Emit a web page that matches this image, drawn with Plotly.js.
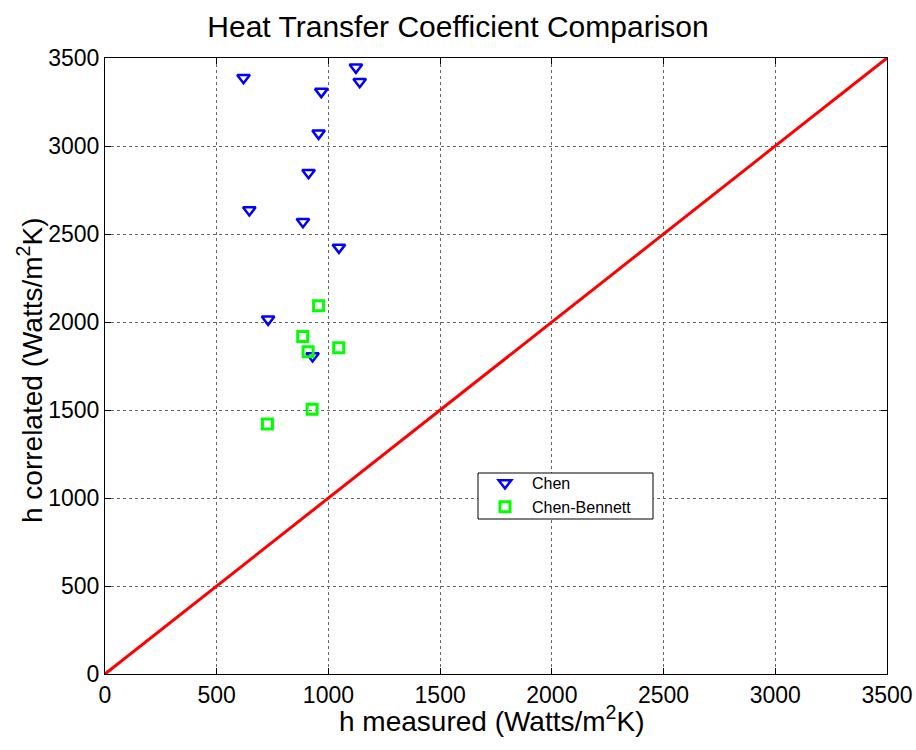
<!DOCTYPE html>
<html>
<head>
<meta charset="utf-8">
<script src="https://cdn.plot.ly/plotly-3.0.1.min.js"></script>
<style>html,body{margin:0;padding:0;background:#fff;}#chart{width:916px;height:750px;}</style>
</head>
<body>
<div id="chart"></div>
<script>
var chenMeasured = [1123, 1140, 620, 968, 956, 911, 646, 886, 1047, 730, 929];
var chenCorrelated = [3447, 3365, 3388, 3309, 3072, 2848, 2636, 2570, 2424, 2015, 1807];
var bennettMeasured = [956, 885, 909, 1046, 927, 727];
var bennettCorrelated = [2093, 1917, 1831, 1854, 1504, 1420];
var lineX = [0, 3500];
var lineY = [0, 3500];
var tickVals = [0, 500, 1000, 1500, 2000, 2500, 3000, 3500];
var xTitle = 'h measured (Watts/m<sup>2</sup>K)';
var yTitle = 'h correlated (Watts/m<sup>2</sup>K)';

var font = "Liberation Sans, Arial, sans-serif";
var traces = [
  {x: lineX, y: lineY, mode: 'lines', line: {color: '#ff0000', width: 3}, showlegend: false, hoverinfo: 'skip'},
  {x: chenMeasured, y: chenCorrelated, mode: 'markers', name: 'Chen',
   marker: {symbol: 'triangle-down-open', size: 11, color: '#0000ff', line: {width: 2.5, color: '#0000ff'}}},
  {x: bennettMeasured, y: bennettCorrelated, mode: 'markers', name: 'Chen-Bennett',
   marker: {symbol: 'square-open', size: 10, color: '#00ff00', line: {width: 3, color: '#00ff00'}}}
];
var axisCommon = {
  range: [0, 3500], tickvals: tickVals, ticks: 'inside', ticklen: 6, tickcolor: '#000',
  showline: true, linecolor: '#000', linewidth: 1, mirror: 'ticks',
  showgrid: true, gridcolor: '#666', griddash: 'dot', gridwidth: 1, zeroline: false,
  tickfont: {family: font, size: 23, color: '#000'}
};
var W = 782, H = 616, L = 105, B = 674;
var layout = {
  width: 916, height: 750,
  margin: {l: 105, r: 29, t: 58, b: 76},
  paper_bgcolor: '#fff', plot_bgcolor: '#fff',
  font: {family: font, color: '#000'},
  title: {text: 'Heat Transfer Coefficient Comparison', font: {family: font, size: 30, color: '#000'}, x: 0.5, xanchor: 'center', y: 0.965, yanchor: 'middle'},
  xaxis: Object.assign({}, axisCommon),
  yaxis: Object.assign({}, axisCommon),
  annotations: [
    {text: xTitle, xref: 'paper', yref: 'paper', x: (492 - L) / W, y: (B - 719) / H, xanchor: 'center', yanchor: 'middle',
     showarrow: false, font: {family: font, size: 28, color: '#000'}},
    {text: yTitle, xref: 'paper', yref: 'paper', x: (30 - L) / W, y: (B - 370) / H, xanchor: 'center', yanchor: 'middle',
     textangle: -90, showarrow: false, font: {family: font, size: 28, color: '#000'}}
  ],
  shapes: [
    {type: 'rect', xref: 'paper', yref: 'paper', x0: (478 - L) / W, x1: (653 - L) / W, y0: (B - 473) / H, y1: (B - 519) / H,
     line: {color: '#000', width: 1}, fillcolor: '#fff', layer: 'above'}
  ],
  legend: {x: (478 - L) / W, y: (B - 466) / H, xanchor: 'left', yanchor: 'top',
    borderwidth: 0, bgcolor: 'rgba(0,0,0,0)', font: {family: font, size: 16, color: '#000'},
    tracegroupgap: 0, itemwidth: 44},
  showlegend: true
};
Plotly.newPlot('chart', traces, layout, {displayModeBar: false, staticPlot: true});
</script>
</body>
</html>
